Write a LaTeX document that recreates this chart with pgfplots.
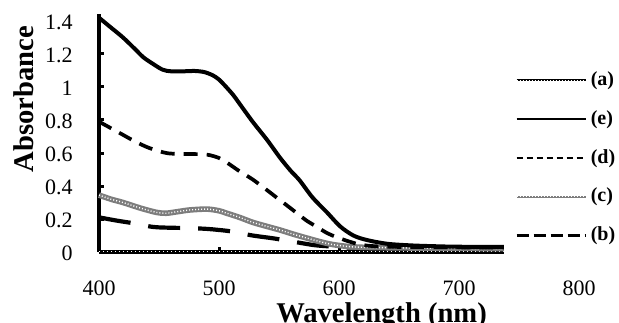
\documentclass[border=0pt]{standalone}
\usepackage{fontspec}
\setmainfont{Liberation Serif}
\usepackage{pgfplots}
\pgfplotsset{compat=1.18}
\definecolor{hatchgray}{RGB}{125,125,125}
\begin{document}
\begin{tikzpicture}
\begin{axis}[
  at={(49.5pt,35pt)}, anchor=south west,
  scale only axis, width=240pt, height=118.8pt,
  xmin=400, xmax=800, ymin=0, ymax=1.44,
  axis x line=bottom, axis y line=left,
  axis line style={line width=2pt,-},
  xtick={400,500,600,700,800},
  ytick={0,0.2,0.4,0.6,0.8,1,1.2,1.4},
  tick align=inside, major tick length=2.6pt,
  tick style={line width=1.5pt,black},
  /pgf/number format/assume math mode=true,
  ticklabel style={font=\fontsize{11}{13}\selectfont},
  xticklabel style={anchor=base, yshift=-21.8pt},
  yticklabel style={anchor=base east, inner sep=0pt, xshift=-13pt, yshift=-4.2pt},
  xlabel={Wavelength (nm)},
  ylabel={Absorbance},
  xlabel style={at={(axis description cs:0.5887,-0.2100)}, anchor=north, inner sep=0pt, font=\bfseries\fontsize{14.3}{16}\selectfont},
  ylabel style={at={(axis description cs:-0.1576,0.644)}, anchor=center, inner sep=0pt, font=\bfseries\fontsize{14.3}{16}\selectfont},
  clip=false,
  legend image code/.code={\draw[#1] (0pt,0pt) -- (34.5pt,0pt);},
  legend cell align=left,
  legend style={at={(axis description cs:0.8434,0.8165)}, anchor=north west,
    draw=none, fill=white, inner xsep=5.5pt, inner ysep=6pt, row sep=9.4pt, column sep=2pt,
    font=\bfseries\fontsize{10}{12}\selectfont,
    nodes={inner sep=0pt, text height=7.5pt, text depth=2.5pt}},
]
% (a)
\addplot[forget plot, black, line width=1.6pt, postaction={draw=white, line width=0.5pt, dash pattern=on 0.6pt off 1.4pt}]
  coordinates {(400,0.005) (500,0.005) (600,0.005) (700,0.005) (800,0.005)};
% (b)
\addplot[forget plot, black, line width=2.1pt, dash pattern=on 16pt off 9pt, smooth]
  coordinates {(400,0.21) (415,0.19) (428,0.175) (445,0.152) (460,0.147) (476,0.145) (490,0.14) (498,0.135) (510,0.125) (528,0.10) (545,0.083) (560,0.065) (578,0.043) (590,0.035) (610,0.027) (650,0.024) (700,0.022) (800,0.02)};
% (c)
\addplot[forget plot, hatchgray, line width=2.8pt, smooth, postaction={draw=white, line width=0.7pt, dash pattern=on 0.5pt off 1pt}]
  coordinates {(400,0.345) (410,0.32) (420,0.30) (435,0.265) (448,0.24) (456,0.235) (466,0.245) (476,0.255) (490,0.26) (500,0.25) (506,0.236) (517,0.21) (528,0.18) (540,0.155) (551,0.133) (562,0.108) (573,0.085) (584,0.063) (595,0.045) (610,0.032) (630,0.027) (700,0.022) (800,0.02)};
% (d)
\addplot[forget plot, black, line width=1.85pt, dash pattern=on 7pt off 4.5pt, smooth]
  coordinates {(400,0.79) (410,0.75) (420,0.71) (430,0.67) (442,0.63) (456,0.60) (466,0.595) (476,0.594) (490,0.59) (500,0.57) (506,0.545) (517,0.49) (528,0.44) (540,0.375) (548,0.33) (557,0.28) (565,0.235) (573,0.19) (581,0.155) (590,0.115) (598,0.09) (610,0.06) (620,0.042) (640,0.032) (700,0.028) (800,0.025)};
% (e)
\addplot[forget plot, black, line width=2pt, smooth]
  coordinates {(400,1.42) (410,1.36) (420,1.30) (430,1.23) (437,1.18) (445,1.14) (453,1.105) (460,1.095) (470,1.095) (480,1.097) (488,1.09) (495,1.07) (500,1.045) (506,1.0) (512,0.95) (517,0.90) (528,0.79) (540,0.68) (551,0.57) (560,0.49) (567,0.436) (578,0.33) (590,0.24) (601,0.155) (612,0.10) (623,0.073) (640,0.05) (660,0.04) (680,0.035) (700,0.032) (750,0.03) (800,0.028)};
% legend
\addlegendimage{black, line width=1.1pt, postaction={draw=white, line width=0.35pt, dash pattern=on 0.5pt off 1pt}}
\addlegendentry{(a)}
\addlegendimage{black, line width=1pt}
\addlegendentry{(e)}
\addlegendimage{black, line width=1pt, dash pattern=on 3.3pt off 1.7pt}
\addlegendentry{(d)}
\addlegendimage{hatchgray, line width=1.3pt, postaction={draw=white, line width=0.4pt, dash pattern=on 0.5pt off 1pt}}
\addlegendentry{(c)}
\addlegendimage{black, line width=1.3pt, dash pattern=on 6pt off 2.5pt}
\addlegendentry{(b)}
\end{axis}
\pgfresetboundingbox
\useasboundingbox (0,0) rectangle (309.5pt,161pt);
\end{tikzpicture}
\end{document}
